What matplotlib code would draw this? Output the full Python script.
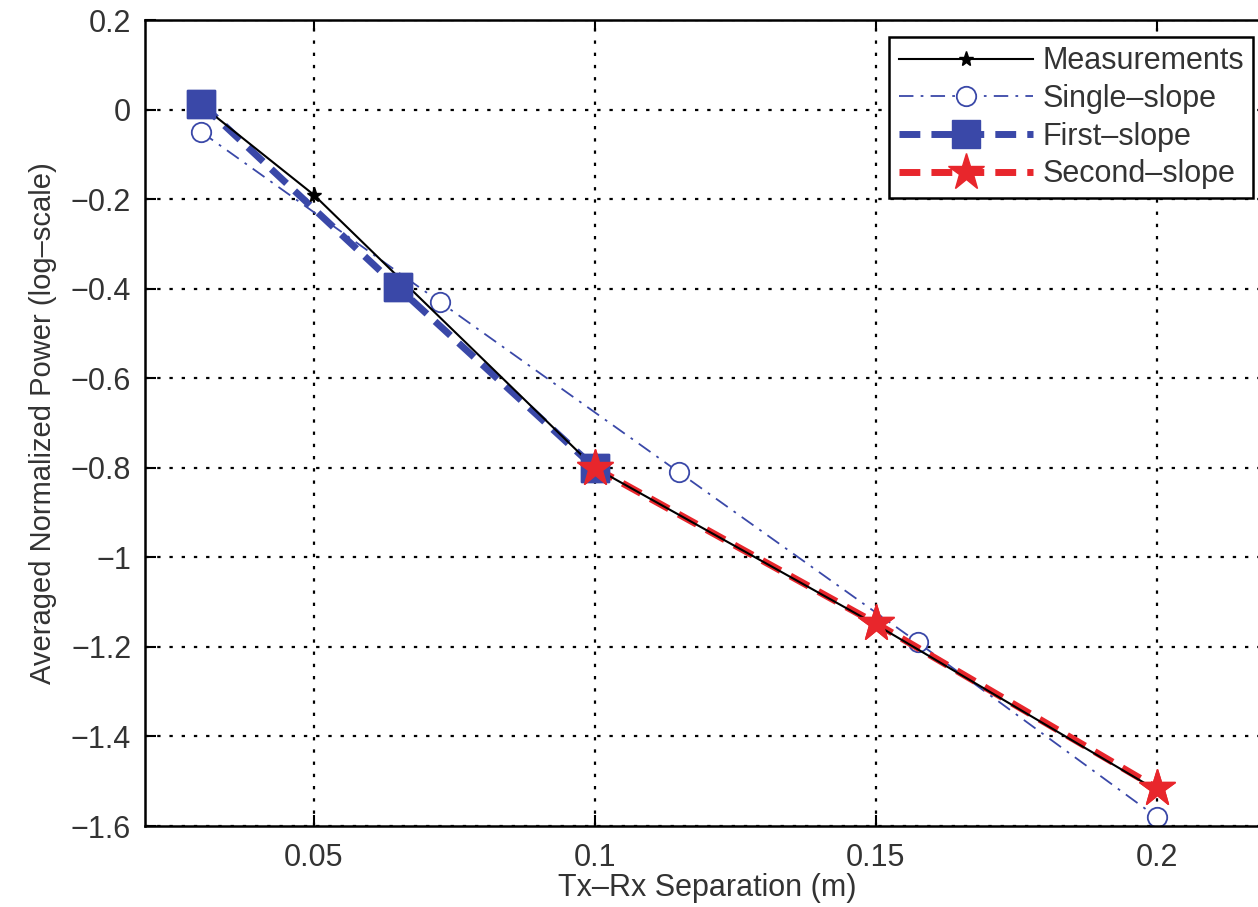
import matplotlib

matplotlib.use("Agg")

import matplotlib.pyplot as plt
import numpy as np

plt.rcParams["font.family"] = ["Liberation Sans", "DejaVu Sans"]

# Measured path-loss points and the fitted models
meas_x = [0.03, 0.05, 0.1, 0.15, 0.2]
meas_y = [0.01, -0.19, -0.80, -1.15, -1.52]

single_x = [0.03, 0.0725, 0.115, 0.1575, 0.2]
single_y = [-0.05, -0.43, -0.81, -1.19, -1.58]

first_x = [0.03, 0.065, 0.1]
first_y = [0.013, -0.397, -0.80]

second_x = [0.1, 0.15, 0.2]
second_y = [-0.80, -1.147, -1.515]

x_ticks = [0.05, 0.1, 0.15, 0.2]
y_ticks = [-1.6, -1.4, -1.2, -1.0, -0.8, -0.6, -0.4, -0.2, 0.0, 0.2]

BLUE = "#3a48a8"
RED = "#e8262c"


def tick_text(v: float) -> str:
    return f"{v:g}".replace("-", "\u2212")


fig = plt.figure(figsize=(12.58, 9.07), dpi=100)
ax = fig.add_axes([0.1153, 0.0893, 0.8935, 0.8886])

ax.plot(single_x, single_y, color=BLUE, linestyle=(0, (8, 4, 1.5, 4)), linewidth=1.3,
        marker="o", markersize=14, markerfacecolor="white", markeredgecolor=BLUE,
        markeredgewidth=1.3, label="Single\u2013slope", zorder=2)
ax.plot(first_x, first_y, color=BLUE, linestyle=(0, (3, 1.6)), linewidth=5,
        marker="s", markersize=20, markerfacecolor=BLUE, markeredgecolor=BLUE,
        label="First\u2013slope", zorder=2)
ax.plot(second_x, second_y, color=RED, linestyle=(0, (3, 1.6)), linewidth=5,
        marker="*", markersize=28, markerfacecolor=RED, markeredgecolor=RED,
        label="Second\u2013slope", zorder=2)
ax.plot(meas_x, meas_y, color="black", linestyle="-", linewidth=1.5,
        marker="*", markersize=11, label="Measurements", zorder=3)

# keep the model markers above the measurement trace
ax.plot(first_x, first_y, linestyle="none", marker="s", markersize=20,
        color=BLUE, zorder=4)
ax.plot(second_x, second_y, linestyle="none", marker="*", markersize=28,
        color=RED, zorder=4)

ax.set_xlim(0.02, 0.22)
ax.set_ylim(-1.6, 0.2)
ax.set_xticks(x_ticks)
ax.set_xticklabels([tick_text(v) for v in x_ticks])
ax.set_yticks(y_ticks)
ax.set_yticklabels([tick_text(v) for v in y_ticks])
ax.tick_params(direction="in", length=8, width=1.5, labelsize=22,
               top=True, right=True, colors="black")
ax.tick_params(axis="x", pad=12)
ax.tick_params(axis="y", pad=10)
for label in ax.get_xticklabels() + ax.get_yticklabels():
    label.set_color("#333333")
for spine in ax.spines.values():
    spine.set_linewidth(1.8)

ax.grid(True, color="black", linestyle=(0, (1.5, 4)), linewidth=1.6)

ax.set_xlabel("Tx\u2013Rx Separation (m)", fontsize=22, labelpad=0, color="#333333")
ax.set_ylabel("Averaged Normalized Power (log\u2013scale)", fontsize=21,
              labelpad=10, color="#333333")

handles, labels = ax.get_legend_handles_labels()
order = [3, 0, 1, 2]
leg = ax.legend([handles[i] for i in order], [labels[i] for i in order],
                loc="upper right", bbox_to_anchor=(0.996, 0.959),
                bbox_transform=fig.transFigure, fontsize=22, fancybox=False,
                framealpha=1, edgecolor="black", borderpad=0.3,
                labelspacing=0.25, handlelength=4.4, handletextpad=0.3,
                borderaxespad=0)
leg.get_frame().set_linewidth(1.8)
for text in leg.get_texts():
    text.set_color("#333333")

fig.savefig("out.png", dpi=100)
